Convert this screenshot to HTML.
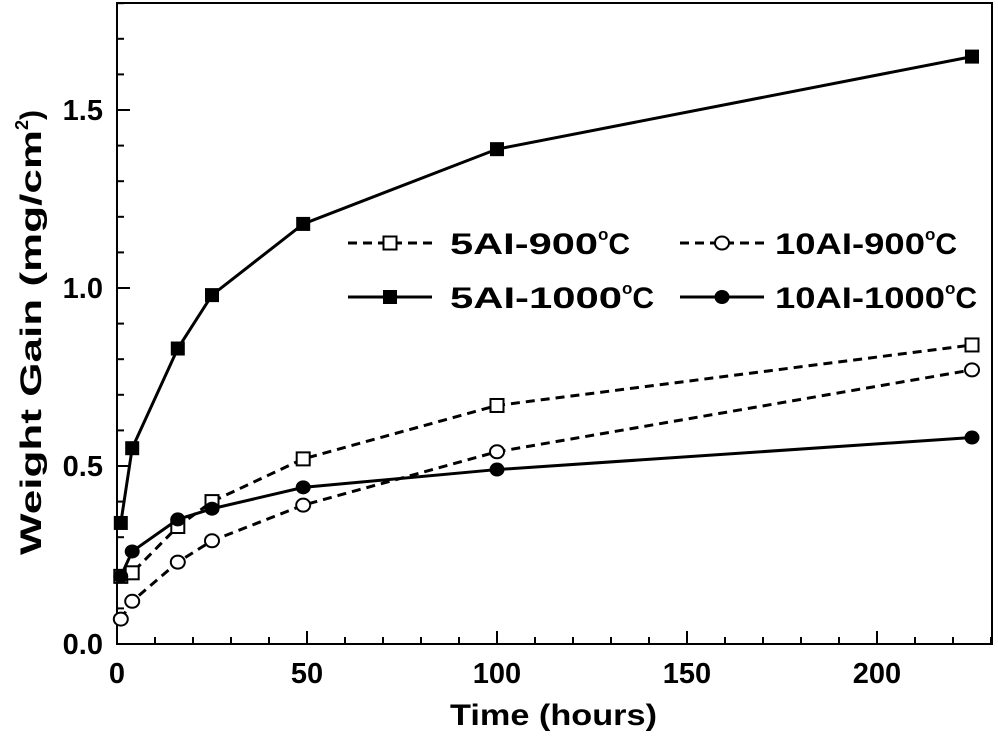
<!DOCTYPE html>
<html><head><meta charset="utf-8"><style>
body{margin:0;background:#fff;}
svg text{font-family:"Liberation Sans",Arial,sans-serif;font-weight:bold;fill:#000;}
</style></head><body>
<svg id="chart" width="998" height="733" xmlns="http://www.w3.org/2000/svg">
<g id="axes"></g><g id="series"></g><g id="legend"></g>
</svg>
<script>
const times=[1,4,16,25,49,100,225];
const al5_900=[0.19,0.20,0.33,0.40,0.52,0.67,0.84];
const al5_1000=[0.34,0.55,0.83,0.98,1.18,1.39,1.65];
const al10_900=[0.07,0.12,0.23,0.29,0.39,0.54,0.77];
const al10_1000=[0.19,0.26,0.35,0.38,0.44,0.49,0.58];
const xTicks=[0,50,100,150,200];
const yTicks=[0.0,0.5,1.0,1.5];

const NS="http://www.w3.org/2000/svg";
const L=117,R=992,T=3,B=644;
const X=v=>L+v*3.8, Y=v=>B-v*356;
function mk(tag,attrs,parent,text){const e=document.createElementNS(NS,tag);for(const k in attrs)e.setAttribute(k,attrs[k]);if(text!==undefined)e.textContent=text;parent.appendChild(e);return e;}
const ax=document.getElementById('axes');
let frame=mk('rect',{x:L,y:T,width:R-L,height:B-T,fill:'none',stroke:'#000','stroke-width':2},ax);


for(let v=0;v<=230;v+=10){const big=v%50===0;mk('line',{x1:X(v),x2:X(v),y1:B,y2:B-(big?13:7),stroke:'#000','stroke-width':2},ax);}
for(let i=0;i<=18;i++){const v=i/10;const big=i%5===0;mk('line',{x1:L,x2:L+(big?13:7),y1:Y(v),y2:Y(v),stroke:'#000','stroke-width':2},ax);}
xTicks.forEach(v=>{const t=mk('text',{x:X(v),y:B+39,'text-anchor':'middle','font-size':29},ax,String(v));

});
yTicks.forEach(v=>{const t=mk('text',{x:L-14,y:Y(v)+10,'text-anchor':'end','font-size':29},ax,v.toFixed(1));

});
const xt=mk('text',{x:450,y:725,'font-size':30,textLength:207,lengthAdjust:'spacingAndGlyphs'},ax,'Time (hours)');


const yt=mk('text',{x:0,y:0,'font-size':30,transform:'translate(41,555) rotate(-90)'},ax);


yt.innerHTML='<tspan textLength="425" lengthAdjust="spacingAndGlyphs">Weight Gain (mg/cm</tspan><tspan dy="-13" font-size="18">2</tspan><tspan dy="13">)</tspan>';

const sg=document.getElementById('series');
function marker(g,x,y,shape,filled){
 if(shape==='sq'){const s=filled?14:13;mk('rect',{x:x-s/2,y:y-s/2,width:s,height:s,fill:filled?'#000':'#fff',stroke:'#000','stroke-width':filled?0:2},g);}
 else mk('ellipse',{cx:x,cy:y,rx:filled?7.5:7,ry:filled?7:6.5,fill:filled?'#000':'#fff',stroke:'#000','stroke-width':filled?0:2},g);
}
const series=[
 {name:'series-5al-900',vals:al5_900,dash:true,shape:'sq',filled:false},
 {name:'series-10al-900',vals:al10_900,dash:true,shape:'ci',filled:false},
 {name:'series-10al-1000',vals:al10_1000,dash:false,shape:'ci',filled:true},
 {name:'series-5al-1000',vals:al5_1000,dash:false,shape:'sq',filled:true}];
series.forEach(s=>{
 const g=mk('g',{},sg);
 
 
 const pts=times.map((t,i)=>X(t)+','+Y(s.vals[i])).join(' ');
 mk('polyline',{points:pts,fill:'none',stroke:'#000','stroke-width':3,'stroke-dasharray':s.dash?'9,6':'none'},g);
 times.forEach((t,i)=>marker(g,X(t),Y(s.vals[i]),s.shape,s.filled));
});
const lg=document.getElementById('legend');
const items=[
 {x:348,y:243,label:'5AI-900',w:148,dash:true,shape:'sq',filled:false,n:'legend-5al-900'},
 {x:348,y:297,label:'5AI-1000',w:172,dash:false,shape:'sq',filled:true,n:'legend-5al-1000'},
 {x:680,y:243,label:'10AI-900',w:150,dash:true,shape:'ci',filled:false,n:'legend-10al-900'},
 {x:680,y:297,label:'10AI-1000',w:170,dash:false,shape:'ci',filled:true,n:'legend-10al-1000'}];
items.forEach(it=>{
 const g=mk('g',{},lg);
 
 
 mk('line',{x1:it.x,x2:it.x+84,y1:it.y,y2:it.y,stroke:'#000','stroke-width':3,'stroke-dasharray':it.dash?'9,6':'none'},g);
 marker(g,it.x+42,it.y,it.shape,it.filled);
 const t=mk('text',{x:it.x+(it.x<500?102:95),y:it.y+11,'font-size':30},g);
 t.innerHTML='<tspan textLength="'+it.w+'" lengthAdjust="spacingAndGlyphs">'+it.label+'</tspan><tspan dy="-14" font-size="17">o</tspan><tspan dy="14">C</tspan>';
});
</script>
</body></html>
